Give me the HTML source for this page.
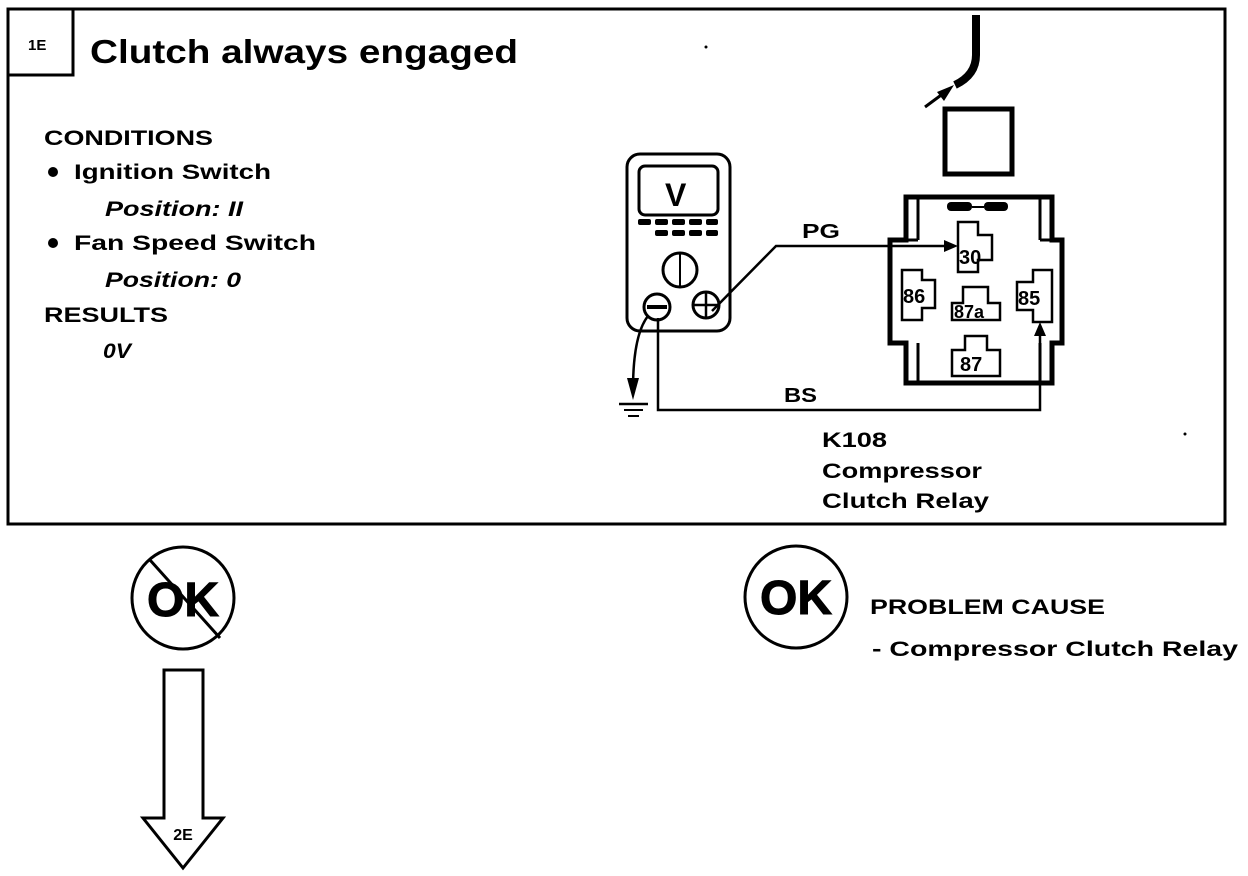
<!DOCTYPE html>
<html><head><meta charset="utf-8"><style>
html,body{margin:0;padding:0;background:#fff;}
svg{display:block;}
text{font-family:"Liberation Sans",Arial,sans-serif;font-weight:bold;fill:#000;}
</style></head><body>
<svg width="1248" height="876" viewBox="0 0 1248 876" xmlns="http://www.w3.org/2000/svg">
<rect x="8" y="9" width="1217" height="515" fill="none" stroke="#000" stroke-width="3"/>
<rect x="8" y="9" width="65" height="66" fill="none" stroke="#000" stroke-width="3"/>
<text x="28" y="50" font-size="15">1E</text>
<text x="90" y="63" font-size="33" textLength="428" lengthAdjust="spacingAndGlyphs">Clutch always engaged</text>
<g font-size="21">
<text x="44" y="145" textLength="169" lengthAdjust="spacingAndGlyphs">CONDITIONS</text>
<circle cx="53" cy="172" r="5"/>
<text x="74" y="179" textLength="197" lengthAdjust="spacingAndGlyphs">Ignition Switch</text>
<text x="105" y="216" font-style="italic" textLength="138" lengthAdjust="spacingAndGlyphs">Position: II</text>
<circle cx="53" cy="243" r="5"/>
<text x="74" y="250" textLength="242" lengthAdjust="spacingAndGlyphs">Fan Speed Switch</text>
<text x="105" y="287" font-style="italic" textLength="136" lengthAdjust="spacingAndGlyphs">Position: 0</text>
<text x="44" y="322" textLength="124" lengthAdjust="spacingAndGlyphs">RESULTS</text>
<text x="103" y="358" font-style="italic" textLength="28" lengthAdjust="spacingAndGlyphs">0V</text>
</g>
<circle cx="706" cy="47" r="1.5"/>
<circle cx="1185" cy="434" r="1.5"/>
<path d="M976 15 L976 55 Q976 75 955 85" fill="none" stroke="#000" stroke-width="8"/>
<line x1="925" y1="107" x2="948" y2="90" stroke="#000" stroke-width="3"/>
<polygon points="954,85 937,92 944,101" fill="#000"/>
<rect x="945" y="109" width="67" height="65" fill="none" stroke="#000" stroke-width="5"/>
<polygon points="906,197 1052,197 1052,240 1062,240 1062,343 1052,343 1052,383 906,383 906,343 890,343 890,240 906,240" fill="none" stroke="#000" stroke-width="5"/>
<line x1="918" y1="199" x2="918" y2="240" stroke="#000" stroke-width="3"/>
<line x1="1040" y1="199" x2="1040" y2="240" stroke="#000" stroke-width="3"/>
<line x1="918" y1="343" x2="918" y2="381" stroke="#000" stroke-width="3"/>
<line x1="1040" y1="343" x2="1040" y2="381" stroke="#000" stroke-width="3"/>
<line x1="890" y1="240" x2="918" y2="240" stroke="#000" stroke-width="3"/>
<line x1="1040" y1="240" x2="1062" y2="240" stroke="#000" stroke-width="3"/>
<rect x="947" y="202" width="25" height="9" rx="4" fill="#000"/>
<rect x="984" y="202" width="24" height="9" rx="4" fill="#000"/>
<line x1="972" y1="207" x2="984" y2="207" stroke="#000" stroke-width="2"/>
<g fill="none" stroke="#000" stroke-width="2.5">
<polygon points="958,222 978,222 978,235 992,235 992,260 978,260 978,272 958,272"/>
<polygon points="902,270 922,270 922,280 935,280 935,308 922,308 922,320 902,320"/>
<polygon points="963,287 988,287 988,303 1000,303 1000,320 952,320 952,303 963,303"/>
<polygon points="1033,270 1052,270 1052,322 1033,322 1033,310 1017,310 1017,282 1033,282"/>
<polygon points="965,336 987,336 987,350 1000,350 1000,376 952,376 952,350 965,350"/>
</g>
<g font-size="20">
<text x="959" y="264">30</text>
<text x="903" y="303">86</text>
<text x="954" y="318" font-size="18">87a</text>
<text x="1018" y="305">85</text>
<text x="960" y="371">87</text>
</g>
<rect x="627" y="154" width="103" height="177" rx="13" fill="none" stroke="#000" stroke-width="3"/>
<rect x="639" y="166" width="79" height="49" rx="6" fill="none" stroke="#000" stroke-width="3"/>
<text x="665" y="206" font-size="32">V</text>
<g fill="#000">
<rect x="638" y="219" width="13" height="6" rx="2"/><rect x="655" y="219" width="13" height="6" rx="2"/><rect x="672" y="219" width="13" height="6" rx="2"/><rect x="689" y="219" width="13" height="6" rx="2"/><rect x="706" y="219" width="12" height="6" rx="2"/>
<rect x="655" y="230" width="13" height="6" rx="2"/><rect x="672" y="230" width="13" height="6" rx="2"/><rect x="689" y="230" width="13" height="6" rx="2"/><rect x="706" y="230" width="12" height="6" rx="2"/>
</g>
<circle cx="680" cy="270" r="17" fill="none" stroke="#000" stroke-width="3"/>
<line x1="680" y1="254" x2="680" y2="286" stroke="#000" stroke-width="2"/>
<circle cx="657" cy="307" r="13" fill="none" stroke="#000" stroke-width="3"/>
<line x1="647" y1="307" x2="667" y2="307" stroke="#000" stroke-width="4"/>
<circle cx="706" cy="305" r="13" fill="none" stroke="#000" stroke-width="3"/>
<line x1="694" y1="305" x2="718" y2="305" stroke="#000" stroke-width="2.5"/>
<line x1="706" y1="293" x2="706" y2="317" stroke="#000" stroke-width="2.5"/>
<polyline points="712,311 776,246 950,246" fill="none" stroke="#000" stroke-width="2.5"/>
<polygon points="958,246 944,240 944,252" fill="#000"/>
<text x="802" y="238" font-size="20" textLength="38" lengthAdjust="spacingAndGlyphs">PG</text>
<polyline points="658,318 658,410 1040,410 1040,330" fill="none" stroke="#000" stroke-width="2.5"/>
<polygon points="1040,322 1034,336 1046,336" fill="#000"/>
<text x="784" y="402" font-size="20" textLength="33" lengthAdjust="spacingAndGlyphs">BS</text>
<path d="M648,316 Q633,335 633,390" fill="none" stroke="#000" stroke-width="2.5"/>
<polygon points="633,400 627,378 639,378" fill="#000"/>
<line x1="619" y1="404" x2="648" y2="404" stroke="#000" stroke-width="2.5"/>
<line x1="624" y1="410" x2="643" y2="410" stroke="#000" stroke-width="2"/>
<line x1="628" y1="416" x2="639" y2="416" stroke="#000" stroke-width="2"/>
<g font-size="21">
<text x="822" y="447" textLength="65" lengthAdjust="spacingAndGlyphs">K108</text>
<text x="822" y="478" textLength="160" lengthAdjust="spacingAndGlyphs">Compressor</text>
<text x="822" y="508" textLength="167" lengthAdjust="spacingAndGlyphs">Clutch Relay</text>
</g>
<circle cx="183" cy="598" r="51" fill="none" stroke="#000" stroke-width="3"/>
<text x="183" y="616" font-size="48" text-anchor="middle" stroke="#000" stroke-width="1">OK</text>
<line x1="150" y1="560" x2="220" y2="638" stroke="#000" stroke-width="3"/>
<polygon points="164,670 203,670 203,818 223,818 183,868 143,818 164,818" fill="none" stroke="#000" stroke-width="3"/>
<text x="183" y="840" font-size="16" text-anchor="middle">2E</text>
<circle cx="796" cy="597" r="51" fill="none" stroke="#000" stroke-width="3"/>
<text x="796" y="614" font-size="48" text-anchor="middle" stroke="#000" stroke-width="1">OK</text>
<text x="870" y="614" font-size="21" textLength="235" lengthAdjust="spacingAndGlyphs">PROBLEM CAUSE</text>
<text x="872" y="656" font-size="21" textLength="366" lengthAdjust="spacingAndGlyphs">-  Compressor Clutch Relay</text>
</svg>
</body></html>
